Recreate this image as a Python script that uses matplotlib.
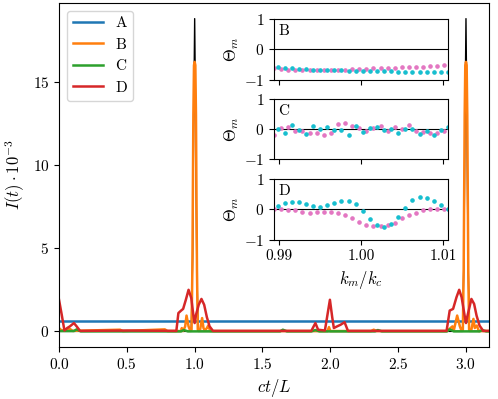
import numpy as np
import matplotlib.pyplot as plt

plt.rcParams["font.family"] = "serif"
plt.rcParams["font.serif"] = ["cmr10"]
plt.rcParams["mathtext.fontset"] = "cm"
plt.rcParams["axes.formatter.use_mathtext"] = True
plt.rcParams["font.size"] = 11

# %% data

t_A = [0.0, 3.17]
I_A = [0.6, 0.6]

t_tot = [0.0, 0.975, 0.985, 0.992, 1.0, 1.008, 1.015, 1.025, 2.975, 2.985, 2.992, 3.0, 3.008, 3.015, 3.025, 3.17]
I_tot = [0.0, 0.0, 4.5, 12.0, 18.8, 12.0, 4.5, 0.0, 0.0, 4.5, 12.0, 18.8, 12.0, 4.5, 0.0, 0.0]

t_B = [0.0, 0.02, 0.08, 0.1, 0.45, 0.47, 0.78, 0.8, 0.9, 0.905, 0.915, 0.93, 0.94, 0.955, 0.967,
       0.977, 0.983, 0.9904, 0.995, 1.0, 1.005, 1.0096, 1.017, 1.023,
       1.04, 1.055, 1.065, 1.075, 1.09, 1.1, 1.115, 1.98, 1.99, 2.0, 2.3, 2.32, 2.34,
       2.86, 2.9, 2.91, 2.935, 2.955, 2.967,
       2.977, 2.983, 2.9904, 2.995, 3.0, 3.005, 3.0096, 3.017, 3.023,
       3.04, 3.055, 3.065, 3.08, 3.095, 3.17]
I_B = [0.2, 0.05, 0.15, 0.03, 0.1, 0.02, 0.12, 0.02, 0.02, 0.2, 0.02, 0.3, 0.95, 0.3, 0.05,
       0.1, 3.7, 13.0, 16.0, 16.2, 16.0, 13.0, 3.7, 0.1,
       0.1, 0.8, 0.2, 0.05, 0.2, 0.35, 0.02, 0.02, 0.26, 0.02, 0.02, 0.1, 0.02,
       0.02, 0.3, 0.05, 0.95, 0.3, 0.05,
       0.1, 3.7, 13.0, 16.0, 16.2, 16.0, 13.0, 3.7, 0.1,
       0.1, 0.75, 0.2, 0.35, 0.02, 0.02]

t_C = [0.0, 0.11, 0.13, 0.16, 0.9, 0.92, 0.95, 1.13, 1.63, 1.65, 1.68, 1.86, 1.89, 1.92, 2.33, 2.35, 2.38,
       2.86, 2.88, 2.91, 3.1, 3.12, 3.15, 3.17]
I_C = [0.02, 0.02, 0.12, 0.0, 0.0, 0.08, 0.0, 0.0, 0.0, 0.1, 0.0, 0.0, 0.08, 0.0, 0.0, 0.08, 0.0,
       0.0, 0.12, 0.0, 0.0, 0.08, 0.0, 0.0]

t_D = [0.0, 0.02, 0.04, 0.06, 0.08, 0.11, 0.13, 0.155, 0.5, 0.865,
       0.88, 0.9, 0.915, 0.935, 0.955, 0.975, 0.99, 1.0, 1.01, 1.03, 1.05, 1.07, 1.09, 1.11, 1.135,
       1.86, 1.89, 1.91, 1.96, 1.985, 1.997, 2.014, 2.026, 2.05, 2.076, 2.105, 2.13,
       2.857, 2.88, 2.905, 2.93, 2.95, 2.968, 2.99, 3.0, 3.01, 3.04, 3.06, 3.078, 3.1, 3.127, 3.17]
I_D = [1.9, 1.0, 0.05, 0.2, 0.3, 0.5, 0.3, 0.03, 0.05, 0.03,
       1.1, 1.25, 1.35, 1.9, 2.5, 2.0, 1.0, 0.5, 1.0, 1.6, 1.95, 1.6, 0.85, 0.3, 0.03,
       0.03, 0.5, 0.1, 0.05, 1.3, 1.9, 0.85, 0.2, 0.3, 0.4, 0.55, 0.03,
       0.03, 1.25, 1.35, 2.05, 2.5, 2.05, 0.95, 0.5, 0.9, 1.95, 1.65, 0.95, 0.35, 0.03, 0.03]

# inset: mode grid, pink on even modes, cyan on odd modes
k_m = np.linspace(0.9894, 1.0106, 50)
k_pink = k_m[0::2]
k_cyan = k_m[1::2]

theta_B_pink = [-0.62, -0.63, -0.66, -0.67, -0.67, -0.67, -0.67, -0.67, -0.67, -0.67, -0.66, -0.64, -0.63,
                -0.63, -0.61, -0.61, -0.6, -0.6, -0.58, -0.58, -0.58, -0.56, -0.54, -0.54, -0.52]
theta_B_cyan = [-0.58, -0.61, -0.61, -0.63, -0.63, -0.66, -0.66, -0.67, -0.67, -0.67, -0.69, -0.69, -0.69,
                -0.71, -0.72, -0.72, -0.72, -0.74, -0.74, -0.74, -0.74, -0.74, -0.74, -0.74, -0.74]

theta_C_pink = [-0.18, 0.04, 0.06, -0.07, -0.07, -0.12, -0.11, -0.2, -0.14, 0.18, 0.21, 0.1, 0.04,
                -0.07, 0.04, 0.1, -0.06, 0.08, 0.0, 0.13, -0.06, -0.09, -0.14, -0.11, -0.07]
theta_C_cyan = [0.0, -0.11, 0.13, -0.01, -0.16, 0.11, 0.01, 0.08, -0.01, -0.02, -0.2, 0.1, -0.08,
                0.04, 0.06, -0.01, 0.01, -0.11, 0.02, 0.0, -0.17, -0.06, -0.2, -0.01, 0.06]

theta_D_pink = [0.01, 0.0, -0.01, -0.03, -0.07, -0.1, -0.09, -0.08, -0.08, -0.12, -0.19, -0.28, -0.4,
                -0.5, -0.54, -0.54, -0.5, -0.43, -0.29, -0.18, -0.1, -0.03, 0.02, 0.02, 0.01]
theta_D_cyan = [0.12, 0.21, 0.25, 0.25, 0.18, 0.1, 0.08, 0.14, 0.22, 0.28, 0.28, 0.18, -0.05,
                -0.3, -0.5, -0.56, -0.46, -0.26, 0.04, 0.3, 0.41, 0.38, 0.29, 0.15, 0.01]

# %% plot

fig = plt.figure(figsize=(4.98, 3.99), dpi=100)
ax = fig.add_axes([0.1185, 0.1303, 0.8635, 0.8622])

ax.plot(t_tot, I_tot, color="black", linewidth=1.0)
ax.plot(t_A, I_A, color="tab:blue", linewidth=1.8, label="A")
ax.plot(t_B, I_B, color="tab:orange", linewidth=1.8, label="B")
ax.plot(t_C, I_C, color="tab:green", linewidth=1.8, label="C")
ax.plot(t_D, I_D, color="tab:red", linewidth=1.8, label="D")

ax.set_xlim(0, 3.17)
ax.set_ylim(-0.94, 19.74)
ax.set_xticks([0.0, 0.5, 1.0, 1.5, 2.0, 2.5, 3.0])
ax.set_yticks([0, 5, 10, 15])
ax.set_xlabel(r"$ct/L$", fontsize=12)
ax.set_ylabel(r"$I(t)\cdot 10^{-3}$", fontsize=12)
ax.legend(loc="upper left")

inset_pos = [[0.5502, 0.7995, 0.3494, 0.1529],
             [0.5502, 0.6003, 0.3494, 0.1516],
             [0.5502, 0.3985, 0.3494, 0.1529]]
inset_data = [("B", theta_B_pink, theta_B_cyan),
              ("C", theta_C_pink, theta_C_cyan),
              ("D", theta_D_pink, theta_D_cyan)]

for i, (pos, (name, th_p, th_c)) in enumerate(zip(inset_pos, inset_data)):
    axi = fig.add_axes(pos)
    axi.axhline(0, color="black", linewidth=0.8)
    axi.plot(k_pink, th_p, "o", color="tab:pink", markersize=2.3)
    axi.plot(k_cyan, th_c, "o", color="tab:cyan", markersize=2.3)
    axi.set_xlim(k_m[0], k_m[-1])
    axi.set_ylim(-1, 1)
    axi.set_yticks([-1, 0, 1])
    axi.set_xticks([0.99, 1.00, 1.01])
    axi.set_ylabel(r"$\Theta_m$", fontsize=12, labelpad=2)
    axi.text(0.025, 0.92, name, transform=axi.transAxes, ha="left", va="top", fontsize=11)
    if i < 2:
        axi.set_xticklabels([])
    else:
        axi.set_xticklabels(["0.99", "1.00", "1.01"])
        axi.set_xlabel(r"$k_m/k_c$", fontsize=12)

fig.savefig("out.png", dpi=100)
